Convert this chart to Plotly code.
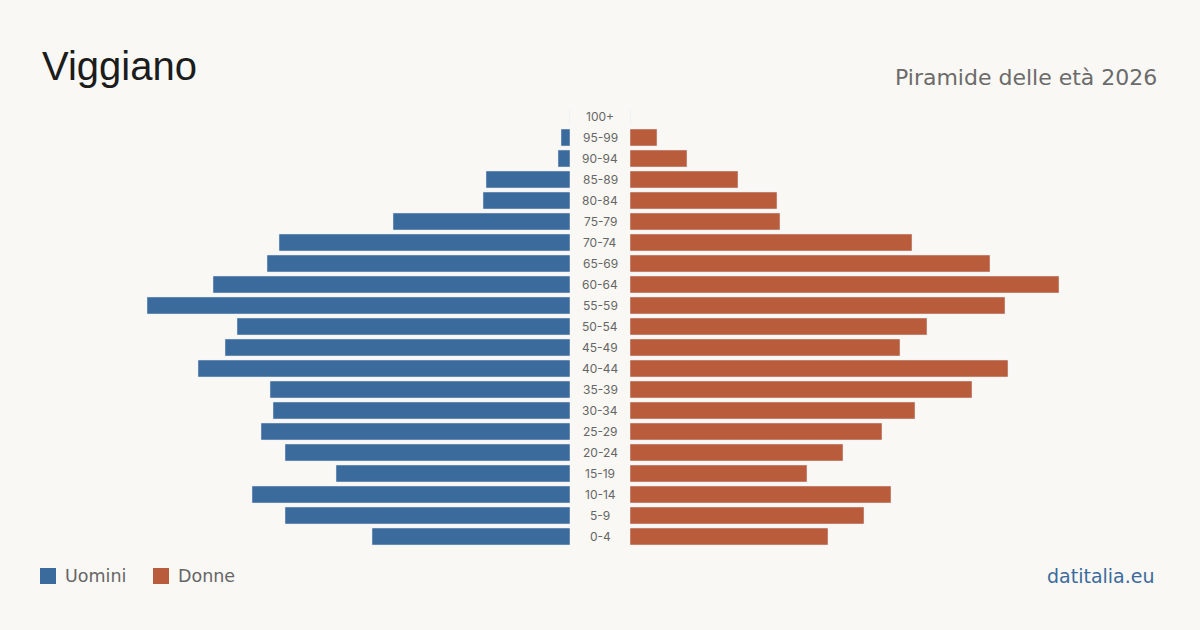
import plotly.graph_objects as go

age_groups = ["0-4", "5-9", "10-14", "15-19", "20-24", "25-29", "30-34", "35-39",
              "40-44", "45-49", "50-54", "55-59", "60-64", "65-69", "70-74",
              "75-79", "80-84", "85-89", "90-94", "95-99", "100+"]
men = [66, 95, 106, 78, 95, 103, 99, 100, 124, 115, 111, 141, 119, 101, 97,
       59, 29, 28, 4, 3, 0]
women = [66, 78, 87, 59, 71, 84, 95, 114, 126, 90, 99, 125, 143, 120, 94,
         50, 49, 36, 19, 9, 0]

title_text = "Viggiano"
subtitle_text = "Piramide delle età 2026"
source_text = "datitalia.eu"
legend_labels = ["Uomini", "Donne"]

BLUE = "#3b6b9c"
ORANGE = "#b95c3c"
BG = "#f9f8f4"
W, H = 1200, 630
WIDE = "DejaVu Sans, Open Sans, sans-serif"

fig = go.Figure()
fig.add_trace(go.Bar(y=age_groups, x=men, orientation="h", marker_color=BLUE,
                     xaxis="x", yaxis="y", name=legend_labels[0], showlegend=False,
                     hoverinfo="skip"))
fig.add_trace(go.Bar(y=age_groups, x=women, orientation="h", marker_color=ORANGE,
                     xaxis="x2", yaxis="y", name=legend_labels[1], showlegend=False,
                     hoverinfo="skip"))

px_per_unit = 3.0
left_end = 570
right_start = 630
y_top, y_bot = 106, 547

fig.update_layout(
    width=W, height=H, margin=dict(l=0, r=0, t=0, b=0),
    paper_bgcolor=BG, plot_bgcolor=BG, bargap=0.19,
    xaxis=dict(domain=[0, left_end / W], range=[left_end / px_per_unit, 0],
               visible=False, fixedrange=True),
    xaxis2=dict(domain=[right_start / W, 1], range=[0, (W - right_start) / px_per_unit],
                visible=False, fixedrange=True),
    yaxis=dict(domain=[1 - y_bot / H, 1 - y_top / H], type="category",
               categoryorder="array", categoryarray=age_groups,
               visible=False, fixedrange=True),
    font=dict(family="Inter, Liberation Sans, sans-serif"),
)

for g in age_groups:
    fig.add_annotation(x=600 / W, xref="paper", y=g, yref="y", text=g,
                       showarrow=False, xanchor="center", yanchor="middle",
                       font=dict(size=12, color="#666666"))

fig.add_annotation(x=40 / W, y=1 - 66 / H, xref="paper", yref="paper", text=title_text,
                   showarrow=False, xanchor="left", yanchor="middle",
                   font=dict(size=40, color="#1c1c1c", family="Liberation Sans, Arial, sans-serif"))
fig.add_annotation(x=1159 / W, y=1 - 77 / H, xref="paper", yref="paper", text=subtitle_text,
                   showarrow=False, xanchor="right", yanchor="middle",
                   font=dict(size=22, color="#6b6b6b", family=WIDE))
fig.add_annotation(x=1157 / W, y=1 - 576 / H, xref="paper", yref="paper", text=source_text,
                   showarrow=False, xanchor="right", yanchor="middle",
                   font=dict(size=19, color=BLUE, family=WIDE))

for (x0, col, lab) in [(40, BLUE, legend_labels[0]), (153, ORANGE, legend_labels[1])]:
    fig.add_shape(type="rect", xref="paper", yref="paper",
                  x0=x0 / W, x1=(x0 + 16) / W, y0=1 - 584 / H, y1=1 - 568 / H,
                  fillcolor=col, line=dict(width=0))
    fig.add_annotation(x=(x0 + 23) / W, y=1 - 576 / H, xref="paper", yref="paper", text=lab,
                       showarrow=False, xanchor="left", yanchor="middle",
                       font=dict(size=17.5, color="#666666", family=WIDE))

fig.write_html("out.html", config={"displayModeBar": False})
